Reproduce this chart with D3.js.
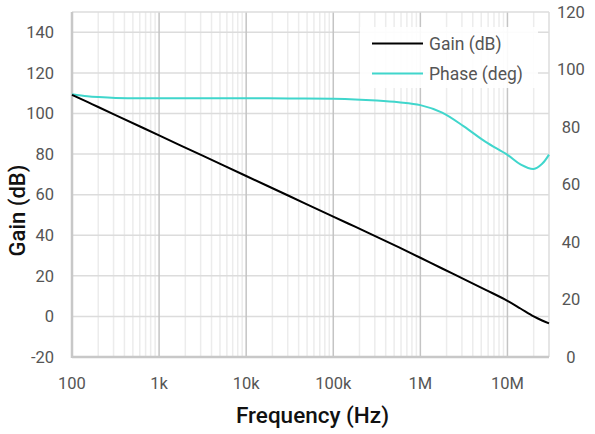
<!DOCTYPE html>
<html>
<head>
<meta charset="utf-8">
<script src="https://cdn.jsdelivr.net/npm/d3@7"></script>
<style>
  body { margin: 0; background: #fff; }
  svg { display: block; font-family: "Roboto", "DejaVu Sans", sans-serif; }
</style>
</head>
<body>
<div id="chart"></div>
<script>
// dades llegides del gràfic
const freqs = [100, 150, 200, 316, 1e3, 3.16e3, 1e4, 3.16e4, 1e5, 1.78e5, 3.16e5, 5.62e5,
               1e6, 1.78e6, 3.16e6, 5.62e6, 1e7, 1.41e7, 2e7, 2.5e7, 3e7];
const gain  = [109.2, 105.7, 103.2, 99.2, 89.2, 79.2, 69.2, 59.2, 49.2, 44.2, 39.2, 34.1,
               28.9, 23.6, 18.4, 13.1, 7.7, 3.9, 0.0, -2.0, -3.4];
const phase = [91.4, 90.7, 90.4, 90.1, 90.0, 90.0, 90.0, 89.9, 89.8, 89.6, 89.2, 88.6,
               87.6, 85.0, 80.2, 74.8, 70.3, 67.0, 65.4, 67.2, 70.4];

const freqTicks = [100, 1e3, 1e4, 1e5, 1e6, 1e7];
const freqLabels = ["100", "1k", "10k", "100k", "1M", "10M"];
const gainTicks = [-20, 0, 20, 40, 60, 80, 100, 120, 140];
const phaseTicks = [0, 20, 40, 60, 80, 100, 120];

const series = [
  { name: "Gain (dB)", values: gain, color: "#000000", axis: "gain" },
  { name: "Phase (deg)", values: phase, color: "#40d6cc", axis: "phase" }
];

const W = 595, H = 434;
const margin = { top: 12, right: 46, bottom: 77, left: 72 };

const svg = d3.select("#chart").append("svg")
  .attr("width", W)
  .attr("height", H);

const x = d3.scaleLog().domain([100, 3e7]).range([margin.left, W - margin.right]);
const yGain = d3.scaleLinear().domain([-20, 150]).range([H - margin.bottom, margin.top]);
const yPhase = d3.scaleLinear().domain([0, 120]).range([H - margin.bottom, margin.top]);

const x0 = margin.left, x1 = W - margin.right;
const yTop = margin.top, yBot = H - margin.bottom;

// graella menor vertical
const minor = [];
for (let d = 100; d < 3e7; d *= 10) {
  for (let k = 2; k <= 9; k++) if (d * k < 3e7) minor.push(d * k);
}
svg.append("g").selectAll("line").data(minor).join("line")
  .attr("x1", d => x(d)).attr("x2", d => x(d))
  .attr("y1", yTop).attr("y2", yBot)
  .attr("stroke", "#ececec").attr("stroke-width", 1.5);

// graella horitzontal
svg.append("g").selectAll("line").data(gainTicks).join("line")
  .attr("x1", x0).attr("x2", x1)
  .attr("y1", d => yGain(d)).attr("y2", d => yGain(d))
  .attr("stroke", "#dcdcdc").attr("stroke-width", 1.5);

// graella major vertical
svg.append("g").selectAll("line").data(freqTicks).join("line")
  .attr("x1", d => x(d)).attr("x2", d => x(d))
  .attr("y1", yTop).attr("y2", yBot)
  .attr("stroke", "#c4c4c4").attr("stroke-width", 1.5);

// marc
svg.append("line").attr("x1", x0).attr("x2", x1).attr("y1", yTop).attr("y2", yTop)
  .attr("stroke", "#dcdcdc").attr("stroke-width", 1.5);
svg.append("line").attr("x1", x1).attr("x2", x1).attr("y1", yTop).attr("y2", yBot)
  .attr("stroke", "#dcdcdc").attr("stroke-width", 1.5);
svg.append("line").attr("x1", x0).attr("x2", x1).attr("y1", yBot).attr("y2", yBot)
  .attr("stroke", "#c8c8c8").attr("stroke-width", 2.5);
svg.append("line").attr("x1", x0).attr("x2", x0).attr("y1", yTop).attr("y2", yBot + 1)
  .attr("stroke", "#c8c8c8").attr("stroke-width", 2.5);

// etiquetes dels eixos
const tickFont = 16.5, tickColor = "#555";
svg.append("g").selectAll("text").data(gainTicks).join("text")
  .attr("x", 54).attr("y", d => yGain(d)).attr("dy", "0.35em")
  .attr("text-anchor", "end").attr("font-size", tickFont).attr("fill", tickColor)
  .text(d => d < 0 ? "-" + Math.abs(d) : d);

svg.append("g").selectAll("text").data(phaseTicks).join("text")
  .attr("x", 571).attr("y", d => yPhase(d)).attr("dy", "0.35em")
  .attr("text-anchor", "middle").attr("font-size", tickFont).attr("fill", tickColor)
  .text(d => d);

svg.append("g").selectAll("text").data(freqTicks).join("text")
  .attr("x", d => x(d)).attr("y", 383).attr("dy", "0.35em")
  .attr("text-anchor", "middle").attr("font-size", tickFont).attr("fill", tickColor)
  .text((d, i) => freqLabels[i]);

svg.append("text")
  .attr("x", (x0 + x1) / 2 + 2).attr("y", 415).attr("dy", "0.35em")
  .attr("text-anchor", "middle").attr("font-size", 22.5).attr("font-weight", 500)
  .attr("fill", "#111").text("Frequency (Hz)");

svg.append("text")
  .attr("transform", `translate(17,${(yTop + yBot) / 2 + 26}) rotate(-90)`)
  .attr("dy", "0.35em")
  .attr("text-anchor", "middle").attr("font-size", 22).attr("font-weight", 500)
  .attr("fill", "#111").text("Gain (dB)");

// corbes
const line = (yScale, vals) => d3.line()
  .x((d, i) => x(freqs[i]))
  .y(d => yScale(d))
  .curve(d3.curveCatmullRom.alpha(0.5))(vals);

svg.append("g").selectAll("path").data(series.slice().reverse()).join("path")
  .attr("d", s => line(s.axis === "gain" ? yGain : yPhase, s.values))
  .attr("fill", "none")
  .attr("stroke", s => s.color)
  .attr("stroke-width", 2);

// llegenda
const legend = svg.append("g");
legend.append("rect")
  .attr("x", 360).attr("y", 27).attr("width", 178).attr("height", 61)
  .attr("fill", "#fff").attr("fill-opacity", 0.9);
const item = legend.selectAll("g").data(series).join("g")
  .attr("transform", (d, i) => `translate(372,${43.5 + i * 30})`);
item.append("line").attr("x1", 0).attr("x2", 51)
  .attr("stroke", d => d.color).attr("stroke-width", 2);
item.append("text").attr("x", 57).attr("dy", "0.35em")
  .attr("font-size", 17.5).attr("fill", "#555").text(d => d.name);
</script>
</body>
</html>
